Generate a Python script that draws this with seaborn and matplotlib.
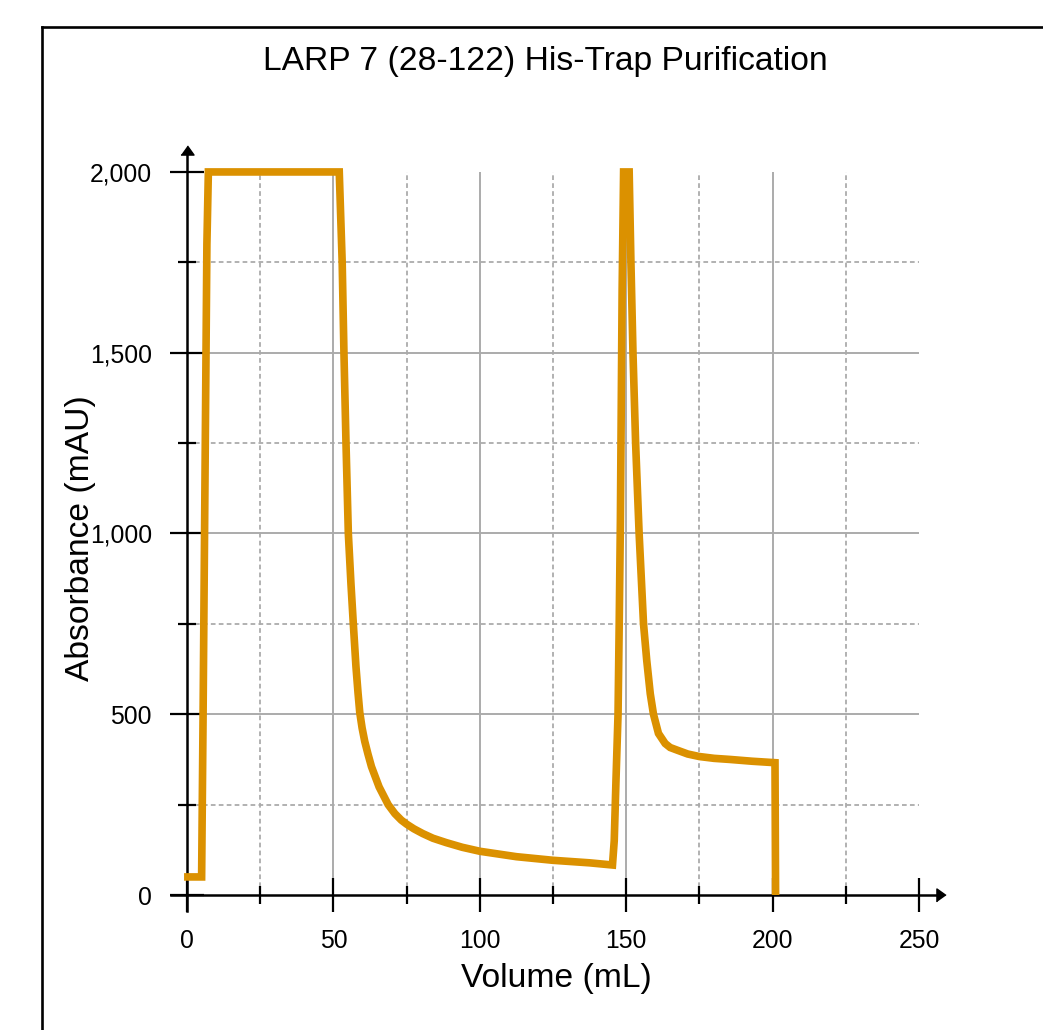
import matplotlib
matplotlib.use("Agg")
import matplotlib.pyplot as plt
from matplotlib.lines import Line2D
import seaborn as sns

# ---- data ----
volume_ml = [-1.0, 5.0, 5.5, 6.2, 6.8, 7.3,
             52.0, 53.0, 53.6, 54.3, 55.1, 56.0, 56.8, 57.7, 58.4, 59.0, 59.8,
             60.7, 61.8, 63.0, 65.6, 68.7, 71.0, 73.2, 75.0, 77.5, 80.5, 84.0,
             88.5, 94.0, 100.0, 112.5, 125.0, 137.5, 145.3,
             145.9, 146.5, 147.2, 147.6, 148.0, 148.6, 149.1,
             151.0, 151.6, 152.3, 153.2, 154.4, 155.9, 157.0, 158.2, 159.3,
             161.0, 163.3, 165.0, 167.3, 171.0, 175.0, 180.0, 185.4, 193.0,
             200.8, 201.0]
absorbance_mau = [50, 50, 500, 1200, 1800, 2000,
                  2000, 1750, 1500, 1250, 1000, 860, 750, 632, 560, 505, 462,
                  425, 390, 355, 299, 250, 225, 207, 196, 183, 170, 157,
                  145, 132, 121, 106, 96, 89, 83,
                  150, 318, 500, 750, 1032, 1673, 2000,
                  2000, 1750, 1500, 1250, 1000, 750, 649, 557, 500,
                  447, 419, 408, 401, 390, 383, 378, 375, 370,
                  366, 0]

x_major = [0, 50, 100, 150, 200, 250]
x_major_labels = ["0", "50", "100", "150", "200", "250"]
x_minor = [25, 75, 125, 175, 225]
y_major = [0, 500, 1000, 1500, 2000]
y_major_labels = ["0", "500", "1,000", "1,500", "2,000"]
y_minor = [250, 750, 1250, 1750]

title = "LARP 7 (28-122) His-Trap Purification"
x_label = "Volume (mL)"
y_label = "Absorbance (mAU)"

# ---- style ----
sns.set_theme(style="white")
plt.rcParams["font.family"] = ["Liberation Sans", "DejaVu Sans"]

W, H = 1043, 1030
fig = plt.figure(figsize=(W / 100, H / 100), dpi=100)
fig.patch.set_facecolor("white")

# axes placed so that x=0 -> px 187, x=250 -> px 919, y=0 -> px 895, y=2000 -> px 172
xlim = (-10, 265)
ylim = (-60, 2100)
left_px, right_px = 157.7, 963.0
bottom_px, top_px = 916.7, 135.8
ax = fig.add_axes([left_px / W, 1 - bottom_px / H,
                   (right_px - left_px) / W, (bottom_px - top_px) / H])
ax.set_xlim(*xlim)
ax.set_ylim(*ylim)
ax.set_facecolor("none")
ax.set_axisbelow(False)

grid_col = "#ababab"
# grid
ax.vlines(x_major[1:-1], 0, 2000, colors=grid_col, linewidth=1.4, zorder=0.2)
ax.vlines(x_minor, 0, 2000, colors=grid_col, linewidth=1.3,
          linestyles=(0, (2.6, 1.8)), zorder=0.2)
ax.hlines(y_major[1:-1], 0, 250, colors=grid_col, linewidth=1.4, zorder=0.2)
ax.hlines(y_minor, 0, 250, colors=grid_col, linewidth=1.3,
          linestyles=(0, (2.6, 1.8)), zorder=0.2)

# data line
sns.lineplot(x=volume_ml, y=absorbance_mau, sort=False, estimator=None,
             color="#DB9100", linewidth=5.5, ax=ax, zorder=5)
line = ax.lines[-1]
line.set_solid_joinstyle("miter")
line.set_solid_capstyle("butt")

# axes lines through origin
for s in ["top", "right"]:
    ax.spines[s].set_visible(False)
ax.spines["bottom"].set_position(("data", 0))
ax.spines["left"].set_position(("data", 0))
ax.spines["bottom"].set_bounds(-5.5, 257.6)
ax.spines["left"].set_bounds(-44, 2062)
for s in ["bottom", "left"]:
    ax.spines[s].set_visible(True)
    ax.spines[s].set_color("black")
    ax.spines[s].set_linewidth(1.8)
    ax.spines[s].set_zorder(3)
ax.xaxis.set_zorder(3)
ax.yaxis.set_zorder(3)

# arrow heads
ax.plot([257.6], [0], marker=[(-0.35, -0.5), (-0.35, 0.5), (0.35, 0)],
        ms=9.4, color="black", clip_on=False, zorder=4, linestyle="none")
ax.plot([0], [2062], marker=[(-0.5, -0.35), (0.5, -0.35), (0, 0.35)],
        ms=9.4, color="black", clip_on=False, zorder=4, linestyle="none")

# ticks
ax.set_xticks(x_major, labels=x_major_labels)
ax.set_xticks(x_minor, minor=True)
ax.set_yticks(y_major, labels=y_major_labels)
ax.set_yticks(y_minor, minor=True)
ax.tick_params(axis="x", which="major", direction="inout", length=23.8, width=1.6,
               color="black", labelsize=17.8, pad=12.4, labelcolor="black",
               bottom=True)
ax.tick_params(axis="x", which="minor", direction="inout", length=12.6, width=1.6,
               color="black", bottom=True)
ax.tick_params(axis="y", which="major", direction="inout", length=24.5, width=1.6,
               color="black", labelsize=17.8, pad=13.0, labelcolor="black",
               left=True)
ax.tick_params(axis="y", which="minor", direction="inout", length=13.0, width=1.6,
               color="black", left=True)
ax.grid(False)

# labels
ax.set_xlabel(x_label, fontsize=24.2, color="black")
ax.set_ylabel(y_label, fontsize=24.2, color="black")
axw, axh = right_px - left_px, bottom_px - top_px
ax.xaxis.set_label_coords((556.0 - left_px) / axw, (bottom_px - 963) / axh)
ax.yaxis.set_label_coords((95.5 - left_px) / axw, (bottom_px - 538.5) / axh)

fig.text(545.5 / W, 1 - 70 / H, title, ha="center", va="baseline",
         fontsize=24.2, color="black")

# outer frame (cropped box)
fy = 1 - 27.0 / H
fx = 41.5 / W
fig.add_artist(Line2D([fx, 1.0], [fy, fy], transform=fig.transFigure,
                      color="black", linewidth=1.9, solid_capstyle="projecting"))
fig.add_artist(Line2D([fx, fx], [0.0, fy], transform=fig.transFigure,
                      color="black", linewidth=1.9, solid_capstyle="projecting"))

fig.savefig("out.png", dpi=100, facecolor="white")
